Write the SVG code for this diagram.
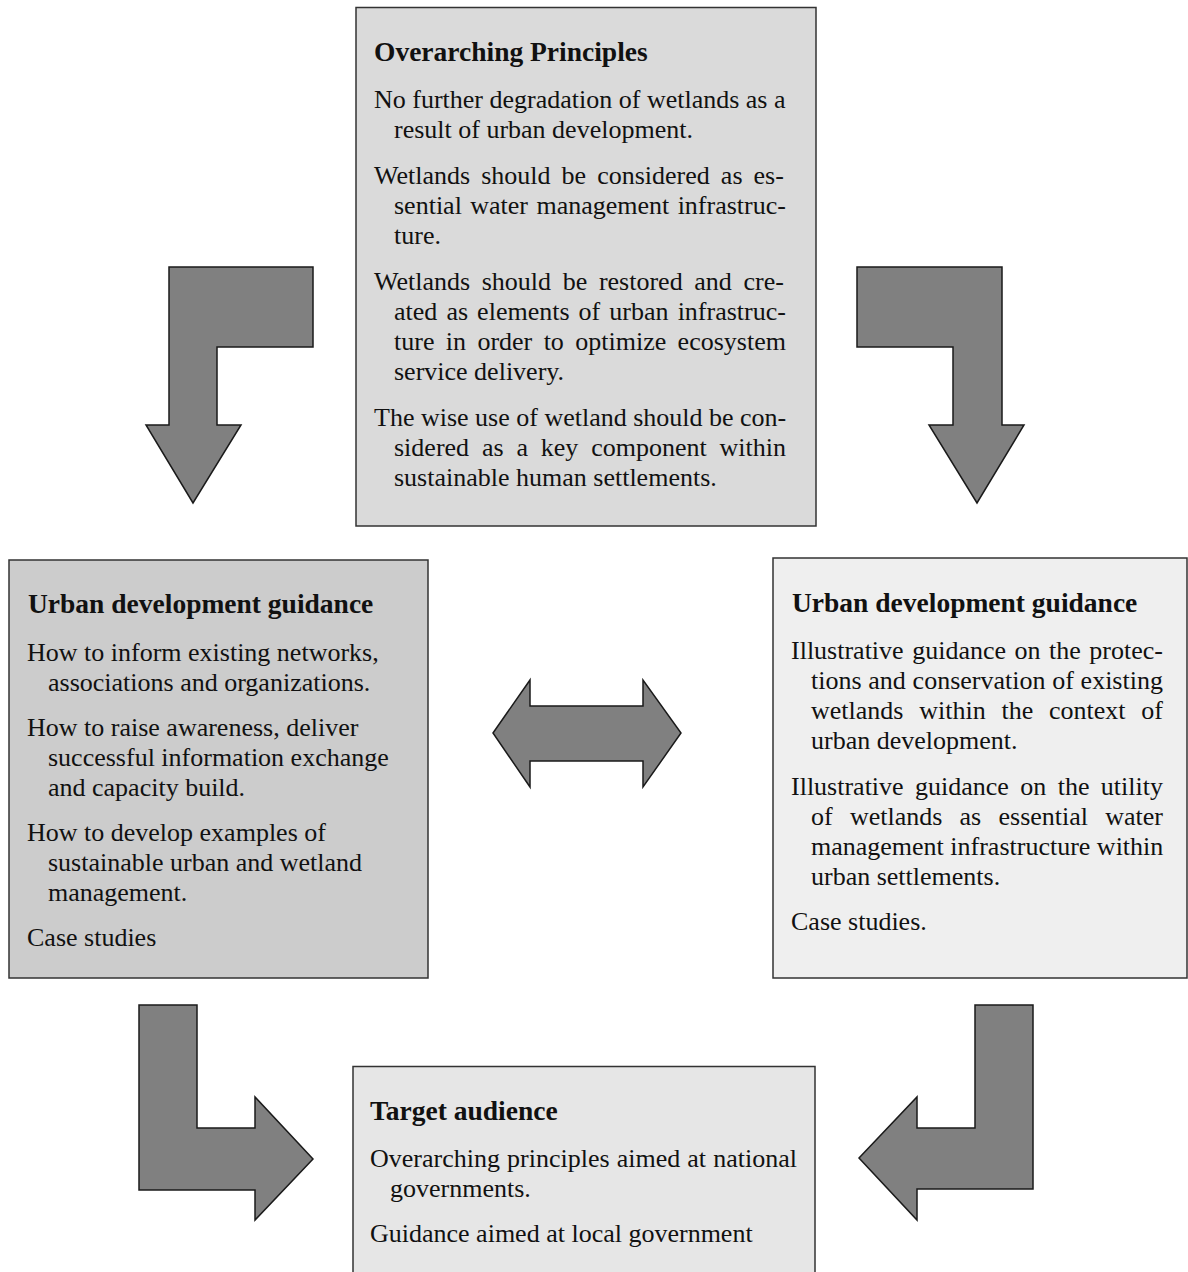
<svg xmlns="http://www.w3.org/2000/svg" width="1188" height="1272" viewBox="0 0 1188 1272">
<style>
  .box { stroke: #333333; stroke-width: 1.5; }
  .arrow { fill: #808080; stroke: #1a1a1a; stroke-width: 1.5; stroke-linejoin: miter; }
  text { font-family: "Liberation Serif", "Times New Roman", serif; fill: #111111; }
  .h { font-size: 27.5px; font-weight: bold; }
  .b { font-size: 26px; }
</style>
<rect width="1188" height="1272" fill="#ffffff"/>

<g id="node-principles">
  <rect class="box" x="356" y="7.5" width="460" height="518.5" fill="#dadada"/>
  <text class="h" x="374" y="61">Overarching Principles</text>
  <text class="b" x="374" y="108">No further degradation of wetlands as a</text>
  <text class="b" x="394" y="138">result of urban development.</text>
  <text class="b" x="374" y="184" word-spacing="4.56">Wetlands should be considered as es-</text>
  <text class="b" x="394" y="214" word-spacing="1.9">sential water management infrastruc-</text>
  <text class="b" x="394" y="244">ture.</text>
  <text class="b" x="374" y="290" word-spacing="5.14">Wetlands should be restored and cre-</text>
  <text class="b" x="394" y="320" word-spacing="2.58">ated as elements of urban infrastruc-</text>
  <text class="b" x="394" y="350" word-spacing="4.88">ture in order to optimize ecosystem</text>
  <text class="b" x="394" y="380">service delivery.</text>
  <text class="b" x="374" y="426">The wise use of wetland should be con-</text>
  <text class="b" x="394" y="456" word-spacing="6.34">sidered as a key component within</text>
  <text class="b" x="394" y="486">sustainable human settlements.</text>
</g>

<g id="node-guidance-left">
  <rect class="box" x="9" y="560" width="419" height="418" fill="#cccccc"/>
  <text class="h" x="28" y="613">Urban development guidance</text>
  <text class="b" x="27" y="661">How to inform existing networks,</text>
  <text class="b" x="48" y="691">associations and organizations.</text>
  <text class="b" x="27" y="736">How to raise awareness, deliver</text>
  <text class="b" x="48" y="766">successful information exchange</text>
  <text class="b" x="48" y="796">and capacity build.</text>
  <text class="b" x="27" y="841">How to develop examples of</text>
  <text class="b" x="48" y="871">sustainable urban and wetland</text>
  <text class="b" x="48" y="901">management.</text>
  <text class="b" x="27" y="946">Case studies</text>
</g>

<g id="node-guidance-right">
  <rect class="box" x="773" y="558" width="414" height="420" fill="#efefef"/>
  <text class="h" x="792" y="612">Urban development guidance</text>
  <text class="b" x="791" y="659" word-spacing="2.02">Illustrative guidance on the protec-</text>
  <text class="b" x="811" y="689" word-spacing="0.25">tions and conservation of existing</text>
  <text class="b" x="811" y="719" word-spacing="9.28">wetlands within the context of</text>
  <text class="b" x="811" y="749">urban development.</text>
  <text class="b" x="791" y="795" word-spacing="4.9">Illustrative guidance on the utility</text>
  <text class="b" x="811" y="825" word-spacing="10.75">of wetlands as essential water</text>
  <text class="b" x="811" y="855">management infrastructure within</text>
  <text class="b" x="811" y="885">urban settlements.</text>
  <text class="b" x="791" y="930">Case studies.</text>
</g>

<g id="node-audience">
  <rect class="box" x="353" y="1066.5" width="462" height="220" fill="#e6e6e6"/>
  <text class="h" x="370" y="1120">Target audience</text>
  <text class="b" x="370" y="1167" word-spacing="0.6">Overarching principles aimed at national</text>
  <text class="b" x="390" y="1197">governments.</text>
  <text class="b" x="370" y="1242">Guidance aimed at local government</text>
</g>

<g id="connectors">
  <polygon id="arrow-top-left" class="arrow" points="169,267 313,267 313,347 217,347 217,425 241,425 193,503 146,425 169,425"/>
  <polygon id="arrow-top-right" class="arrow" points="857,267 1002,267 1002,425 1024,425 977,503 929,425 953,425 953,347 857,347"/>
  <polygon id="arrow-middle" class="arrow" points="493,733 530,680 530,706 643,706 643,680 681,733 643,787 643,761 530,761 530,787"/>
  <polygon id="arrow-bottom-left" class="arrow" points="139,1005 197,1005 197,1128 255,1128 255,1097 313,1159 255,1220 255,1190 139,1190"/>
  <polygon id="arrow-bottom-right" class="arrow" points="975,1005 1033,1005 1033,1189 917,1189 917,1220 859,1158 917,1097 917,1128 975,1128"/>
</g>
</svg>
